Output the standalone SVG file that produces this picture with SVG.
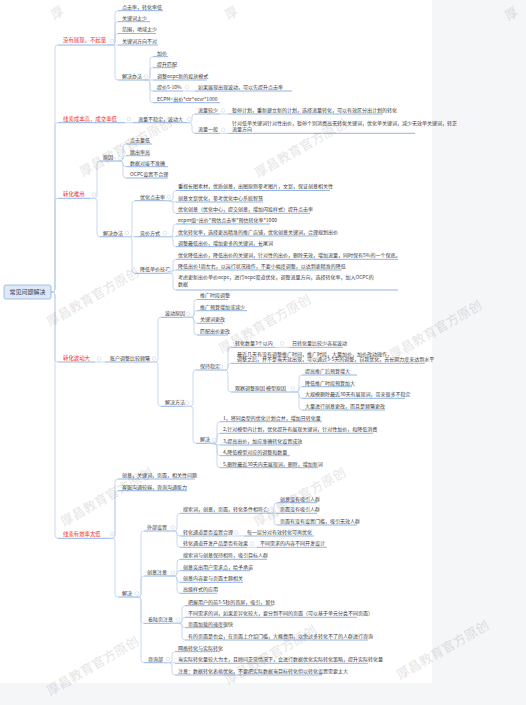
<svg xmlns="http://www.w3.org/2000/svg" width="526" height="705" viewBox="0 0 526 705">
<style>
text{font-family:"Noto Sans CJK SC","Noto Sans",sans-serif;font-size:5px;fill:#3c3c3c}
.r{fill:#f0302c;font-size:5.4px}
.rt{font-size:6px;fill:#2f3d55}
.c{fill:none;stroke:#bccfeb;stroke-width:0.8}
.u{stroke:#86abe3;stroke-width:0.9}
.k{fill:#fff;stroke:#c9d7ec;stroke-width:0.6}
.w{font-size:13px;font-weight:bold;fill:#000;fill-opacity:0.09}
</style>
<rect x="0" y="0" width="526" height="705" fill="#f5f6f8"/>
<rect x="0" y="0" width="432" height="683" fill="#fff"/>

<g id="connectors">
<path class="c" d="M51,292H52Q55,292 55,289V48Q55,45 58,45"/>
<path class="c" d="M51,292H52Q55,292 55,289V125.7Q55,122.7 58,122.7"/>
<path class="c" d="M51,292H52Q55,292 55,289V201.3Q55,198.3 58,198.3"/>
<path class="c" d="M51,292H52Q55,292 55,295V359Q55,362 58,362"/>
<path class="c" d="M51,292H52Q55,292 55,295V535.3Q55,538.3 58,538.3"/>
<path class="c" d="M107,45H112Q115,45 115,42V13.7Q115,10.7 118,10.7"/>
<path class="c" d="M107,45H112Q115,45 115,42V24.7Q115,21.7 118,21.7"/>
<path class="c" d="M107,45H112Q115,45 115,42V36.5Q115,33.5 118,33.5"/>
<path class="c" d="M107,45H118"/>
<path class="c" d="M107,45H112Q115,45 115,48V77Q115,80 118,80"/>
<path class="c" d="M143,80H147Q150,80 150,77V59.7Q150,56.7 153,56.7"/>
<path class="c" d="M143,80H147Q150,80 150,77V70.7Q150,67.7 153,67.7"/>
<path class="c" d="M143,80H153"/>
<path class="c" d="M143,80H147Q150,80 150,83V88Q150,91 153,91"/>
<path class="c" d="M143,80H147Q150,80 150,83V99.7Q150,102.7 153,102.7"/>
<path class="c" d="M183,91H195"/>
<path class="c" d="M125,122.7H133"/>
<path class="c" d="M187,122.7H189Q192,122.7 192,119.7V117Q192,114 195,114"/>
<path class="c" d="M187,122.7H189Q192,122.7 192,125.7V130.3Q192,133.3 195,133.3"/>
<path class="c" d="M220,114H228"/>
<path class="c" d="M220,133.3H228"/>
<path class="c" d="M90,198.3H94Q97,198.3 97,195.3V164Q97,161 100,161"/>
<path class="c" d="M90,198.3H94Q97,198.3 97,201.3V233.7Q97,236.7 100,236.7"/>
<path class="c" d="M117,161H120Q123,161 123,158V147Q123,144 126,144"/>
<path class="c" d="M117,161H120Q123,161 123,158V158.7Q123,155.7 126,155.7"/>
<path class="c" d="M117,161H120Q123,161 123,163.8Q123,166.7 126,166.7"/>
<path class="c" d="M117,161H120Q123,161 123,164V175Q123,178 126,178"/>
<path class="c" d="M123,236.7H129Q132,236.7 132,233.7V203.7Q132,200.7 135,200.7"/>
<path class="c" d="M123,236.7H135"/>
<path class="c" d="M123,236.7H129Q132,236.7 132,239.7V270.3Q132,273.3 135,273.3"/>
<path class="c" d="M165,200.7H170Q173,200.7 173,197.7V193.5Q173,190.5 176,190.5"/>
<path class="c" d="M165,200.7C170,200.7 171,202 176,202"/>
<path class="c" d="M165,200.7H170Q173,200.7 173,203.7V210.3Q173,213.3 176,213.3"/>
<path class="c" d="M160,236.7H170Q173,236.7 173,233.7V227Q173,224 176,224"/>
<path class="c" d="M160,236.7H176"/>
<path class="c" d="M160,236.7H170Q173,236.7 173,239.7V243.7Q173,246.7 176,246.7"/>
<path class="c" d="M165,273.3H170Q173,273.3 173,270.3V262.3Q173,259.3 176,259.3"/>
<path class="c" d="M165,273.3C170,273.3 171,270 176,270"/>
<path class="c" d="M165,273.3H170Q173,273.3 173,276.3V287Q173,290 176,290"/>
<path class="c" d="M95,362H105"/>
<path class="c" d="M150,362H155Q158,362 158,359V320.3Q158,317.3 161,317.3"/>
<path class="c" d="M150,362H155Q158,362 158,365V403.3Q158,406.3 161,406.3"/>
<path class="c" d="M183,317.3H191Q194,317.3 194,314.3V302.5Q194,299.5 197,299.5"/>
<path class="c" d="M183,317.3H191Q194,317.3 194,314.3V313.7Q194,310.7 197,310.7"/>
<path class="c" d="M183,317.3H191Q194,317.3 194,320.3Q194,323.3 197,323.3"/>
<path class="c" d="M183,317.3H191Q194,317.3 194,320.3V332Q194,335 197,335"/>
<path class="c" d="M183,406.3H190Q193,406.3 193,403.3V373Q193,370 196,370"/>
<path class="c" d="M183,406.3H190Q193,406.3 193,409.3V440.3Q193,443.3 196,443.3"/>
<path class="c" d="M217,370H225Q228,370 228,367V350.3Q228,347.3 231,347.3"/>
<path class="c" d="M217,370H225Q228,370 228,367V366.3Q228,363.3 231,363.3"/>
<path class="c" d="M217,370H225Q228,370 228,373V389Q228,392 231,392"/>
<path class="c" d="M275,347.3H289"/>
<path class="c" d="M290,392H296Q299,392 299,389V378Q299,375 302,375"/>
<path class="c" d="M290,392H296Q299,392 299,389.3Q299,386.7 302,386.7"/>
<path class="c" d="M290,392H296Q299,392 299,395V395.3Q299,398.3 302,398.3"/>
<path class="c" d="M290,392H296Q299,392 299,395V407Q299,410 302,410"/>
<path class="c" d="M208,443.3H214Q217,443.3 217,440.3V424.7Q217,421.7 220,421.7"/>
<path class="c" d="M208,443.3H214Q217,443.3 217,440.3V436.3Q217,433.3 220,433.3"/>
<path class="c" d="M208,443.3C213,443.3 215,445 220,445"/>
<path class="c" d="M208,443.3H214Q217,443.3 217,446.3V452.7Q217,455.7 220,455.7"/>
<path class="c" d="M208,443.3H214Q217,443.3 217,446.3V464.7Q217,467.7 220,467.7"/>
<path class="c" d="M108,538.3H112Q115,538.3 115,535.3V482Q115,479 118,479"/>
<path class="c" d="M108,538.3H112Q115,538.3 115,535.3V493.7Q115,490.7 118,490.7"/>
<path class="c" d="M108,538.3H112Q115,538.3 115,541.3V594Q115,597 118,597"/>
<path class="c" d="M130,597H138Q141,597 141,594V534Q141,531 144,531"/>
<path class="c" d="M130,597H138Q141,597 141,594V579Q141,576 144,576"/>
<path class="c" d="M130,597H138Q141,597 141,600V620.3Q141,623.3 144,623.3"/>
<path class="c" d="M130,597H138Q141,597 141,600V659.7Q141,662.7 144,662.7"/>
<path class="c" d="M165,531H174Q177,531 177,528V516.3Q177,513.3 180,513.3"/>
<path class="c" d="M165,531H174Q177,531 177,533.5Q177,536 180,536"/>
<path class="c" d="M165,531H174Q177,531 177,534V544.3Q177,547.3 180,547.3"/>
<path class="c" d="M262,513.3H271Q274,513.3 274,510.3V505.7Q274,502.7 277,502.7"/>
<path class="c" d="M262,513.3H277"/>
<path class="c" d="M262,513.3H271Q274,513.3 274,516.3V522Q274,525 277,525"/>
<path class="c" d="M227,536H244"/>
<path class="c" d="M247,547.3H257"/>
<path class="c" d="M165,576H174Q177,576 177,573V562.3Q177,559.3 180,559.3"/>
<path class="c" d="M165,576H174Q177,576 177,573.3Q177,570.7 180,570.7"/>
<path class="c" d="M165,576H174Q177,576 177,579V579.3Q177,582.3 180,582.3"/>
<path class="c" d="M165,576H174Q177,576 177,579V590.3Q177,593.3 180,593.3"/>
<path class="c" d="M170,623.3H179Q182,623.3 182,620.3V608.7Q182,605.7 185,605.7"/>
<path class="c" d="M170,623.3H179Q182,623.3 182,620.3Q182,617.3 185,617.3"/>
<path class="c" d="M170,623.3H179Q182,623.3 182,625.5Q182,627.7 185,627.7"/>
<path class="c" d="M170,623.3H179Q182,623.3 182,626.3V637Q182,640 185,640"/>
<path class="c" d="M162,662.7H169Q172,662.7 172,659.7V654.7Q172,651.7 175,651.7"/>
<path class="c" d="M162,662.7H175"/>
<path class="c" d="M162,662.7H169Q172,662.7 172,665.7V672Q172,675 175,675"/>
</g>

<g id="root"><rect x="4" y="285" width="47" height="14" rx="2" fill="#dfe8f6" stroke="#8fb0de" stroke-width="0.8"/><text class="rt" x="27.5" y="294.2" text-anchor="middle">常见问题解决</text></g>

<g id="b1"><text class="r" x="63" y="42">没有展现，不起量</text><line class="u" x1="58" y1="45" x2="107" y2="45"/><circle class="k" cx="112" cy="41" r="1.8"/></g>
<g id="b1-1"><text x="122" y="8.5">点击率，转化率低</text><line class="u" x1="118" y1="10.7" x2="163" y2="10.7"/></g>
<g id="b1-2"><text x="122" y="19.5">关键词太少</text><line class="u" x1="118" y1="21.7" x2="150" y2="21.7"/></g>
<g id="b1-3"><text x="122" y="31.3">范围，地域太少</text><line class="u" x1="118" y1="33.5" x2="156" y2="33.5"/></g>
<g id="b1-4"><text x="122" y="42.8">关键词方向不对</text><line class="u" x1="118" y1="45" x2="158" y2="45"/></g>
<g id="b1-5"><text x="122" y="77.8">解决办法</text><line class="u" x1="118" y1="80" x2="143" y2="80"/><circle class="k" cx="146" cy="76.5" r="1.8"/></g>
<g id="b1-5-1"><text x="157" y="54.5">加价</text><line class="u" x1="153" y1="56.7" x2="168" y2="56.7"/></g>
<g id="b1-5-2"><text x="157" y="65.5">提升匹配</text><line class="u" x1="153" y1="67.7" x2="175" y2="67.7"/></g>
<g id="b1-5-3"><text x="157" y="77.8">调整ocpc新的投放模式</text><line class="u" x1="153" y1="80" x2="207" y2="80"/></g>
<g id="b1-5-4"><text x="157" y="88.8">提价5-10%</text><line class="u" x1="153" y1="91" x2="183" y2="91"/><circle class="k" cx="187" cy="87.5" r="1.8"/></g>
<g id="b1-5-4-1"><text x="198" y="88.8">如果展现出现波动，可以先提升点击率</text><line class="u" x1="195" y1="91" x2="292" y2="91"/></g>
<g id="b1-5-5"><text x="157" y="100.5">ECPM=出价*ctr*ecvr*1000</text><line class="u" x1="153" y1="102.7" x2="220" y2="102.7"/></g>

<g id="b2"><text class="r" x="63" y="120.5">线索成本高，成交率低</text><line class="u" x1="58" y1="122.7" x2="125" y2="122.7"/><circle class="k" cx="129" cy="119" r="1.8"/></g>
<g id="b2-1"><text x="138" y="120.5">流量不稳定，波动大</text><line class="u" x1="133" y1="122.7" x2="187" y2="122.7"/><circle class="k" cx="189" cy="119" r="1.8"/></g>
<g id="b2-1-1"><text x="198" y="111.8">流量较少</text><line class="u" x1="195" y1="114" x2="220" y2="114"/><circle class="k" cx="223" cy="110.5" r="1.8"/></g>
<g id="b2-1-1-1"><text x="232" y="111.8">暂停计划，重新建立新的计划，选择流量转化，可以有效区分出计划的转化</text><line class="u" x1="228" y1="114" x2="383" y2="114"/></g>
<g id="b2-1-2"><text x="198" y="131">流量一般</text><line class="u" x1="195" y1="133.3" x2="220" y2="133.3"/><circle class="k" cx="223" cy="129.8" r="1.8"/></g>
<g id="b2-1-2-1"><text x="232" y="124.5">针对低单关键词针对性出价，暂停个别消费高无转化关键词，优化单关键词，减少无效单关键词，转正<tspan x="232" dy="6">流量方向</tspan></text><line class="u" x1="228" y1="133.3" x2="415" y2="133.3"/></g>

<g id="b3"><text class="r" x="63" y="196">转化难用</text><line class="u" x1="58" y1="198.3" x2="90" y2="198.3"/><circle class="k" cx="94" cy="194.5" r="1.8"/></g>
<g id="b3-1"><text x="103" y="158.8">原因</text><line class="u" x1="100" y1="161" x2="117" y2="161"/><circle class="k" cx="120" cy="157.5" r="1.8"/></g>
<g id="b3-1-1"><text x="130" y="141.8">点击量低</text><line class="u" x1="126" y1="144" x2="152" y2="144"/></g>
<g id="b3-1-2"><text x="130" y="153.5">跳出率高</text><line class="u" x1="126" y1="155.7" x2="150" y2="155.7"/></g>
<g id="b3-1-3"><text x="130" y="164.5">数据对接不准确</text><line class="u" x1="126" y1="166.7" x2="168" y2="166.7"/></g>
<g id="b3-1-4"><text x="130" y="175.8">OCPC设置不合理</text><line class="u" x1="126" y1="178" x2="168" y2="178"/></g>
<g id="b3-2"><text x="103" y="234.5">解决办法</text><line class="u" x1="100" y1="236.7" x2="123" y2="236.7"/><circle class="k" cx="127" cy="233" r="1.8"/></g>
<g id="b3-2-1"><text x="140" y="198.5">优化点击率</text><line class="u" x1="135" y1="200.7" x2="165" y2="200.7"/><circle class="k" cx="169" cy="197" r="1.8"/></g>
<g id="b3-2-1-1"><text x="178" y="188.3">重视长图素材，优质创意，出图原则参考图片，文案，保证创意相关性</text><line class="u" x1="176" y1="190.5" x2="330" y2="190.5"/></g>
<g id="b3-2-1-2"><text x="178" y="199.8">创意文案优化，参考优化中心系统智慧</text><line class="u" x1="176" y1="202" x2="263" y2="202"/></g>
<g id="b3-2-1-3"><text x="178" y="211.1">优化创意（优化中心，提交创意，增加闪投样式）提升点击率</text><line class="u" x1="176" y1="213.3" x2="310" y2="213.3"/></g>
<g id="b3-2-2"><text x="140" y="234.5">竞价方式</text><line class="u" x1="135" y1="236.7" x2="160" y2="236.7"/><circle class="k" cx="165" cy="233" r="1.8"/></g>
<g id="b3-2-2-1"><text x="178" y="221.8">ecpm值=出价*预估点击率*预估转化率*1000</text><line class="u" x1="176" y1="224" x2="270" y2="224"/></g>
<g id="b3-2-2-2"><text x="178" y="233.8">优化转化率，选择更高精准的推广店铺，优化创意关键词，合理规划出价</text><line class="u" x1="176" y1="236" x2="318" y2="236"/></g>
<g id="b3-2-2-3"><text x="178" y="244.5">调整最低出价，增加更多的关键词，长尾词</text><line class="u" x1="176" y1="246.7" x2="263" y2="246.7"/></g>
<g id="b3-2-3"><text x="140" y="271.1">降低单价技巧</text><line class="u" x1="135" y1="273.3" x2="165" y2="273.3"/><circle class="k" cx="169" cy="269.8" r="1.8"/></g>
<g id="b3-2-3-1"><text x="178" y="257.1">优化降低出价，降低出价的关键词，针对性的出价，删除无效，增加流量，同时保有5%的一个保底。</text><line class="u" x1="176" y1="259.3" x2="398" y2="259.3"/></g>
<g id="b3-2-3-2"><text x="178" y="267.8">降低出价1周左右，以运行状况操作，不要小幅度调整，以达到更精准的降低</text><line class="u" x1="176" y1="270" x2="342" y2="270"/></g>
<g id="b3-2-3-3"><text x="178" y="279.3">考虑更新出价单价ocpc，进行ocpc渠道优化，调整流量方向，选择转化率，加入OCPC的<tspan x="178" dy="7">数据</tspan></text><line class="u" x1="176" y1="290" x2="398" y2="290"/></g>

<g id="b4"><text class="r" x="63" y="359.5">转化波动大</text><line class="u" x1="58" y1="362" x2="95" y2="362"/><circle class="k" cx="99" cy="358.5" r="1.8"/></g>
<g id="b4-1"><text x="110" y="359.8">账户调整比较频繁</text><line class="u" x1="105" y1="362" x2="150" y2="362"/><circle class="k" cx="154" cy="358.5" r="1.8"/></g>
<g id="b4-1-1"><text x="165" y="315.1">波动原因</text><line class="u" x1="161" y1="317.3" x2="183" y2="317.3"/><circle class="k" cx="188" cy="313.8" r="1.8"/></g>
<g id="b4-1-1-1"><text x="200" y="297.3">推广时段调整</text><line class="u" x1="197" y1="299.5" x2="228" y2="299.5"/></g>
<g id="b4-1-1-2"><text x="200" y="308.5">推广预算增加或减少</text><line class="u" x1="197" y1="310.7" x2="247" y2="310.7"/></g>
<g id="b4-1-1-3"><text x="200" y="321.1">关键词更改</text><line class="u" x1="197" y1="323.3" x2="223" y2="323.3"/></g>
<g id="b4-1-1-4"><text x="200" y="332.8">匹配出价更改</text><line class="u" x1="197" y1="335" x2="228" y2="335"/></g>
<g id="b4-1-2"><text x="165" y="404.1">解决方法</text><line class="u" x1="161" y1="406.3" x2="183" y2="406.3"/><circle class="k" cx="187" cy="402.8" r="1.8"/></g>
<g id="b4-1-2-1"><text x="200" y="367.8">保持稳定</text><line class="u" x1="196" y1="370" x2="217" y2="370"/><circle class="k" cx="221" cy="366.5" r="1.8"/></g>
<g id="b4-1-2-1-1"><text x="235" y="345.1">转化数量3个以内</text><line class="u" x1="231" y1="347.3" x2="275" y2="347.3"/><circle class="k" cx="282" cy="343.5" r="1.8"/></g>
<g id="b4-1-2-1-1-1"><text x="292" y="345.1">日转化量比较少容易波动</text><line class="u" x1="289" y1="347.3" x2="343" y2="347.3"/></g>
<g id="b4-1-2-1-2"><text x="237" y="355.5">最近几天有没有调整推广时间，推广时段，大量加价，加价改动操作，<tspan x="237" dy="5.5">调整之后，并不是当天就出现，可以通过3-5天的调整，自我优化，去长期力度来达到水平</tspan></text><line class="u" x1="231" y1="363.3" x2="425" y2="363.3"/></g>
<g id="b4-1-2-1-3"><text x="235" y="389.8">观察调整原因 模型原因</text><line class="u" x1="231" y1="392" x2="290" y2="392"/><circle class="k" cx="293" cy="388.5" r="1.8"/></g>
<g id="b4-1-2-1-3-1"><text x="305" y="372.8">提高推广后预算增大</text><line class="u" x1="302" y1="375" x2="357" y2="375"/></g>
<g id="b4-1-2-1-3-2"><text x="305" y="384.5">降低推广时段预算加大</text><line class="u" x1="302" y1="386.7" x2="352" y2="386.7"/></g>
<g id="b4-1-2-1-3-3"><text x="305" y="396.1">大规模删除最近30天有展现词，带来很多不稳定</text><line class="u" x1="302" y1="398.3" x2="405" y2="398.3"/></g>
<g id="b4-1-2-1-3-4"><text x="305" y="407.8">大量进行创意更改，而且是频繁更改</text><line class="u" x1="302" y1="410" x2="385" y2="410"/></g>
<g id="b4-1-2-2"><text x="200" y="441.1">解决</text><line class="u" x1="196" y1="443.3" x2="208" y2="443.3"/><circle class="k" cx="214" cy="439.8" r="1.8"/></g>
<g id="b4-1-2-2-1"><text x="223" y="419.5">1，将同类型的优化计划合并，增加日转化量</text><line class="u" x1="220" y1="421.7" x2="322" y2="421.7"/></g>
<g id="b4-1-2-2-2"><text x="223" y="431.1">2,针对模型内计划，优化提升有展现关键词，针对性加价，和降低消费</text><line class="u" x1="220" y1="433.3" x2="373" y2="433.3"/></g>
<g id="b4-1-2-2-3"><text x="223" y="442.8">3,提高出价，加应准确转化设置成效</text><line class="u" x1="220" y1="445" x2="300" y2="445"/></g>
<g id="b4-1-2-2-4"><text x="223" y="453.5">4,降低模型对应的调整和数量</text><line class="u" x1="220" y1="455.7" x2="290" y2="455.7"/></g>
<g id="b4-1-2-2-5"><text x="223" y="465.5">5,删除最近30天内无展现词，删除，增加新词</text><line class="u" x1="220" y1="467.7" x2="318" y2="467.7"/></g>

<g id="b5"><text class="r" x="63" y="535.5">线索有效率太低</text><line class="u" x1="58" y1="538.3" x2="108" y2="538.3"/><circle class="k" cx="112" cy="534" r="1.8"/></g>
<g id="b5-1"><text x="122" y="476.8">创意，关键词，页面，相关性问题</text><line class="u" x1="118" y1="479" x2="195" y2="479"/></g>
<g id="b5-2"><text x="122" y="488.5">客服沟通较弱，咨询沟通能力</text><line class="u" x1="118" y1="490.7" x2="187" y2="490.7"/></g>
<g id="b5-3"><text x="122" y="594.8">解决</text><line class="u" x1="118" y1="597" x2="130" y2="597"/><circle class="k" cx="137" cy="593.5" r="1.8"/></g>
<g id="b5-3-1"><text x="147" y="528.8">外部设置</text><line class="u" x1="144" y1="531" x2="165" y2="531"/><circle class="k" cx="173" cy="527.5" r="1.8"/></g>
<g id="b5-3-1-1"><text x="183" y="511.1">搜索词，创意，页面，转化条件相符合</text><line class="u" x1="180" y1="513.3" x2="262" y2="513.3"/><circle class="k" cx="267" cy="509.8" r="1.8"/></g>
<g id="b5-3-1-1-1"><text x="280" y="500.5">创意没有吸引人群</text><line class="u" x1="277" y1="502.7" x2="317" y2="502.7"/></g>
<g id="b5-3-1-1-2"><text x="280" y="511.1">页面没有吸引人群</text><line class="u" x1="277" y1="513.3" x2="317" y2="513.3"/></g>
<g id="b5-3-1-1-3"><text x="280" y="522.8">页面有没有设置门槛，吸引无效人群</text><line class="u" x1="277" y1="525" x2="357" y2="525"/></g>
<g id="b5-3-1-2"><text x="183" y="533.8">转化通道是否设置合理</text><line class="u" x1="180" y1="536" x2="227" y2="536"/><circle class="k" cx="236" cy="532.5" r="1.8"/></g>
<g id="b5-3-1-2-1"><text x="247" y="533.8">每一层分对有效转化可再优化</text><line class="u" x1="244" y1="536" x2="314" y2="536"/></g>
<g id="b5-3-1-3"><text x="183" y="545.1">转化通道开发产品是否有效果</text><line class="u" x1="180" y1="547.3" x2="247" y2="547.3"/><circle class="k" cx="252" cy="543.8" r="1.8"/></g>
<g id="b5-3-1-3-1"><text x="260" y="545.1">不同需求的内容不同开发设计</text><line class="u" x1="257" y1="547.3" x2="327" y2="547.3"/></g>
<g id="b5-3-2"><text x="147" y="573.8">创意注意</text><line class="u" x1="144" y1="576" x2="165" y2="576"/><circle class="k" cx="173" cy="572.5" r="1.8"/></g>
<g id="b5-3-2-1"><text x="183" y="557.1">搜索词与创意保持相符，吸引目标人群</text><line class="u" x1="180" y1="559.3" x2="267" y2="559.3"/></g>
<g id="b5-3-2-2"><text x="183" y="568.5">创意突出用户需求点，给予承诺</text><line class="u" x1="180" y1="570.7" x2="250" y2="570.7"/></g>
<g id="b5-3-2-3"><text x="183" y="580.1">创意内容要与页面主题相关</text><line class="u" x1="180" y1="582.3" x2="243" y2="582.3"/></g>
<g id="b5-3-2-4"><text x="183" y="591.1">高级样式的应用</text><line class="u" x1="180" y1="593.3" x2="217" y2="593.3"/></g>
<g id="b5-3-3"><text x="148" y="621.1">着陆页注意</text><line class="u" x1="144" y1="623.3" x2="170" y2="623.3"/><circle class="k" cx="178" cy="619.5" r="1.8"/></g>
<g id="b5-3-3-1"><text x="188" y="603.5">把握用户的前3-5秒的首屏，吸引，留住</text><line class="u" x1="185" y1="605.7" x2="273" y2="605.7"/></g>
<g id="b5-3-3-2"><text x="188" y="615.1">不同需求的词，如果差异化较大，要分到不同的页面（可以基于单元分类不同页面）</text><line class="u" x1="185" y1="617.3" x2="357" y2="617.3"/></g>
<g id="b5-3-3-3"><text x="188" y="625.5">页面加载的速度很快</text><line class="u" x1="185" y1="627.7" x2="225" y2="627.7"/></g>
<g id="b5-3-3-4"><text x="188" y="637.8">有的页面是也会，在页面上介绍门槛，大概费用，以免过多转化不了的人群进行咨询</text><line class="u" x1="185" y1="640" x2="368" y2="640"/></g>
<g id="b5-3-4"><text x="148" y="660.5">咨询部</text><line class="u" x1="144" y1="662.7" x2="162" y2="662.7"/><circle class="k" cx="168" cy="659" r="1.8"/></g>
<g id="b5-3-4-1"><text x="178" y="649.5">网络转化与实际转化</text><line class="u" x1="175" y1="651.7" x2="220" y2="651.7"/></g>
<g id="b5-3-4-2"><text x="178" y="661.1">当实际转化量较大为主，且顾问正常情况下，会进行数据优化实际转化策略，提升实际转化量</text><line class="u" x1="175" y1="663.3" x2="368" y2="663.3"/></g>
<g id="b5-3-4-3"><text x="178" y="672.8">注意：数据转化表格优化，不要把实际数据当目标转化但以转化设置需要太大</text><line class="u" x1="175" y1="675" x2="322" y2="675"/></g>

<g id="watermarks">
<text class="w" transform="translate(54,20) rotate(-30)">厚</text>
<text class="w" transform="translate(228,20) rotate(-30)">厚</text>
<text class="w" transform="translate(508,21) rotate(-30)">厚</text>
<text class="w" transform="translate(83,177) rotate(-30)">厚昌教育官方原创</text>
<text class="w" transform="translate(258,178) rotate(-30)">厚昌教育官方原创</text>
<text class="w" transform="translate(50,327) rotate(-30)">厚昌教育官方原创</text>
<text class="w" transform="translate(222,354) rotate(-30)">厚昌教育官方原创</text>
<text class="w" transform="translate(393,360) rotate(-30)">厚昌教育官方原创</text>
<text class="w" transform="translate(64,527) rotate(-30)">厚昌教育官方原创</text>
<text class="w" transform="translate(257,527) rotate(-30)">厚昌教育官方原创</text>
<text class="w" transform="translate(50,696) rotate(-30)">厚昌教育官方原创</text>
<text class="w" transform="translate(228,685) rotate(-30)">厚昌教育官方原创</text>
<text class="w" transform="translate(400,680) rotate(-30)">厚昌教育官方原创</text>
</g>
</svg>
